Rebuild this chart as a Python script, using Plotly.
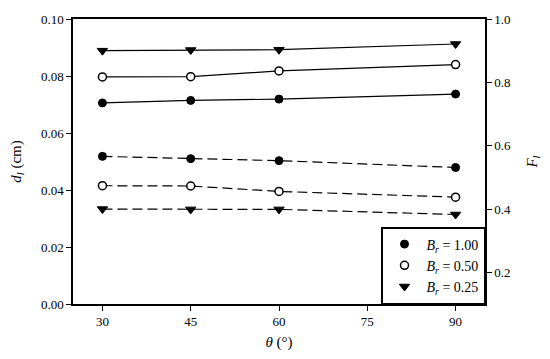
import plotly.graph_objects as go

theta = [30, 45, 60, 90]

# d_l (cm), left axis (dashed lines)
d_br100 = [0.0518, 0.0510, 0.0503, 0.0479]
d_br050 = [0.0415, 0.0414, 0.0395, 0.0375]
d_br025 = [0.0333, 0.0332, 0.0332, 0.0314]

# F_l, right axis (solid lines)
f_br100 = [0.735, 0.743, 0.747, 0.763]
f_br050 = [0.817, 0.818, 0.836, 0.856]
f_br025 = [0.900, 0.902, 0.903, 0.921]

labels = ["<i>B</i><sub><i>r</i></sub> = 1.00",
          "<i>B</i><sub><i>r</i></sub> = 0.50",
          "<i>B</i><sub><i>r</i></sub> = 0.25"]

x_ticks = [30, 45, 60, 75, 90]
yl_ticks = [0.00, 0.02, 0.04, 0.06, 0.08, 0.10]
yr_ticks = [0.2, 0.4, 0.6, 0.8, 1.0]

FONT = "Liberation Serif"


def marker(i):
    if i == 0:
        return dict(symbol="circle", size=8, color="black", line=dict(color="black", width=1))
    if i == 1:
        return dict(symbol="circle", size=8, color="white", line=dict(color="black", width=1.5))
    return dict(symbol="triangle-down", size=9, color="black", line=dict(color="black", width=1))


fig = go.Figure()

for i, ys in enumerate([d_br100, d_br050, d_br025]):
    fig.add_trace(go.Scatter(
        x=theta, y=ys, mode="lines+markers", name=labels[i],
        line=dict(color="black", width=1.2, dash="10px,5px"),
        marker=marker(i), showlegend=False, yaxis="y"))

for i, ys in enumerate([f_br100, f_br050, f_br025]):
    fig.add_trace(go.Scatter(
        x=theta, y=ys, mode="lines+markers", name=labels[i],
        line=dict(color="black", width=1.2),
        marker=marker(i), showlegend=False, yaxis="y2"))

# legend entries (markers only)
for i in range(3):
    fig.add_trace(go.Scatter(
        x=[None], y=[None], mode="markers", name=labels[i],
        marker=marker(i), showlegend=True))

axis_common = dict(
    showline=True, linecolor="black", linewidth=1.5,
    ticks="outside", ticklen=5, tickcolor="black", tickwidth=1.2,
    showgrid=False, zeroline=False, automargin=False,
    tickfont=dict(family=FONT, size=13, color="black"),
)

# page body has an 8px default margin; figure sized to fit inside it
fig.update_layout(
    width=534, height=343,
    margin=dict(l=65, r=57, t=11, b=47),
    paper_bgcolor="white", plot_bgcolor="white",
    font=dict(family=FONT, size=13, color="black"),
    xaxis=dict(
        range=[25, 95], tickvals=x_ticks, mirror=True,
        title=dict(text="<i>θ</i> (°)", font=dict(family=FONT, size=15), standoff=9),
        **axis_common),
    yaxis=dict(
        range=[0, 0.10], tickvals=yl_ticks, tickformat=".2f",
        title=dict(text="<i>d</i><sub><i>l</i></sub> (cm)", font=dict(family=FONT, size=15), standoff=20),
        **axis_common),
    yaxis2=dict(
        range=[0.1, 1.0], tickvals=yr_ticks, tickformat=".1f",
        overlaying="y", side="right",
        title=dict(text="<i>F</i><sub><i>l</i></sub>", font=dict(family=FONT, size=15), standoff=17),
        **axis_common),
    legend=dict(
        x=1.0, y=0.0, xanchor="right", yanchor="bottom",
        bordercolor="black", borderwidth=1.5, bgcolor="white",
        font=dict(family=FONT, size=14), tracegroupgap=0, itemwidth=34,
    ),
)

fig.write_html("out.html")
